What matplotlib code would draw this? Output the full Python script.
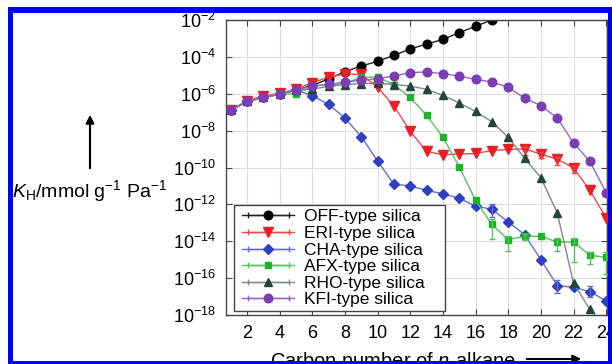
import numpy as np
import matplotlib
matplotlib.use("Agg")
import matplotlib.pyplot as plt
from matplotlib.lines import Line2D
from matplotlib.patches import Rectangle
from matplotlib.legend_handler import HandlerLine2D

plt.rcParams['font.family'] = 'Liberation Sans'
plt.rcParams['mathtext.fontset'] = 'custom'
plt.rcParams['mathtext.rm'] = 'Liberation Sans'
plt.rcParams['mathtext.it'] = 'Liberation Sans:italic'

# carbon number of n-alkane
carbon = np.arange(1, 25)

# log10 of K_H (mmol g-1 Pa-1)
off_log = [-6.9, -6.42, -6.2, -6.03, -5.8, -5.55, -5.2, -4.8, -4.5, -4.24, -3.92,
           -3.57, -3.31, -3.05, -2.69, -2.34, -2.0]
eri_log = [-6.9, -6.38, -6.12, -5.98, -5.75, -5.4, -5.1, -4.93, -4.95, -5.65, -6.66,
           -8.03, -9.13, -9.31, -9.27, -9.24, -9.08, -9.02, -9.0, -9.27, -9.55,
           -10.02, -11.24, -12.73]
cha_log = [-6.9, -6.42, -6.2, -6.03, -5.8, -6.1, -6.58, -7.31, -8.33, -9.64, -10.91,
           -11.0, -11.24, -11.42, -11.67, -12.09, -12.27, -12.95, -13.64, -15.0,
           -16.4, -16.5, -16.73, -17.24]
afx_log = [-6.9, -6.42, -6.2, -6.03, -6.0, -5.6, -5.5, -5.45, -5.1, -5.1, -5.5,
           -6.2, -7.17, -8.35, -9.96, -11.78, -13.09, -13.91, -13.73, -13.73,
           -14.04, -14.04, -14.76, -14.87]
rho_log = [-6.9, -6.42, -6.2, -6.03, -5.8, -5.75, -5.6, -5.5, -5.45, -5.43, -5.5,
           -5.58, -5.76, -6.09, -6.5, -6.96, -7.52, -8.36, -9.5, -10.55, -12.45,
           -16.27, -17.7, -18.6]
kfi_log = [-6.9, -6.42, -6.2, -6.03, -5.8, -5.58, -5.49, -5.36, -5.27, -5.18, -5.04,
           -4.85, -4.82, -4.91, -5.04, -5.22, -5.36, -5.64, -6.24, -6.64, -7.31,
           -8.67, -9.67, -11.36]

# error bars (in decades below / above the point)
afx_err_n = [17, 18, 19, 21, 22, 23, 24]
afx_err_lo = [0.8, 0.6, 0.2, 0.5, 1.1, 0.5, 0.9]
afx_err_hi = [0.3, 0.2, 0.1, 0.2, 0.2, 0.2, 0.3]
cha_err_n = [17, 21, 23]
cha_err_lo = [0.4, 0.4, 0.3]
cha_err_hi = [0.3, 0.3, 0.3]
eri_err_n = [19, 20, 21, 22]
eri_err_lo = [0.3, 0.2, 0.3, 0.3]
eri_err_hi = [0.1, 0.1, 0.1, 0.1]

labels = ['OFF-type silica', 'ERI-type silica', 'CHA-type silica',
          'AFX-type silica', 'RHO-type silica', 'KFI-type silica']
yticks_exp = [-2, -4, -6, -8, -10, -12, -14, -16, -18]
xticks = [2, 4, 6, 8, 10, 12, 14, 16, 18, 20, 22, 24]

series = [
    (off_log, '#000000', '#222222', 'o', 6.2),
    (eri_log, '#ee1c24', '#e8484c', 'v', 6.5),
    (cha_log, '#2f3fbf', '#6470c8', 'D', 5.2),
    (afx_log, '#1fb32a', '#55c25c', 's', 5.0),
    (rho_log, '#244636', '#7f8886', '^', 6.2),
    (kfi_log, '#7a3db3', '#9068c4', 'o', 6.2),
]
errors = {1: (eri_err_n, eri_err_lo, eri_err_hi),
          2: (cha_err_n, cha_err_lo, cha_err_hi),
          3: (afx_err_n, afx_err_lo, afx_err_hi)}

W, H = 612, 364
fig = plt.figure(figsize=(6.12, 3.64), dpi=100)
ax = fig.add_axes([226 / W, 1 - 315 / H, (607 - 226) / W, (315 - 20) / H])

handles = []
hmap = {}
for i, (lg, mc, lc, mk, ms) in enumerate(series):
    n = carbon[:len(lg)]
    k = 10.0 ** np.array(lg)
    ax.plot(n, k, color=lc, lw=1.0, zorder=2 + i)
    ax.plot(n, k, ls='none', marker=mk, ms=ms, mfc=mc, mec=mc, zorder=2 + i)
    if i in errors:
        en, elo, ehi = errors[i]
        idx = np.array(en) - 1
        kk = k[idx]
        lo = kk - kk * 10.0 ** (-np.array(elo))
        hi = kk * 10.0 ** np.array(ehi) - kk
        ax.errorbar(carbon[idx], kk, yerr=[lo, hi], fmt='none', ecolor=lc,
                    elinewidth=1.0, capsize=2, capthick=1.0, zorder=2 + i)
    main = Line2D([], [], color=lc, lw=1.0, marker=mk, ms=ms, mfc=mc, mec=mc)
    caps = Line2D([], [], color=lc, lw=1.0, marker='|', ms=5, mec=lc)
    hmap[caps] = HandlerLine2D(numpoints=2)
    handles.append((caps, main))

ax.set_yscale('log')
ax.set_ylim(1e-18, 1e-2)
ax.set_xlim(0.72, 24.05)
ax.set_yticks([10.0 ** e for e in yticks_exp])
ax.set_yticklabels([r'$10^{%d}$' % e for e in yticks_exp])
ax.yaxis.set_minor_locator(matplotlib.ticker.NullLocator())
ax.set_xticks(xticks)
ax.grid(True, color='#dddddd', lw=0.8, zorder=0)
ax.set_axisbelow(True)
ax.tick_params(direction='in', top=True, right=True, length=4, width=0.8,
               color='#444444', labelsize=13, pad=7)
for s in ax.spines.values():
    s.set_color('#444444')
    s.set_linewidth(1.0)

# legend box drawn by hand (wider right margin than matplotlib's frame)
box = Rectangle((234 / W, 1 - 311 / H), (445 - 234) / W, (311 - 205) / H,
                transform=fig.transFigure, facecolor='white',
                edgecolor='#444444', lw=1.0, zorder=19, clip_on=False)
ax.add_patch(box)
leg = ax.legend(handles, labels, handler_map=hmap, loc='upper left',
                bbox_to_anchor=(238 / W, 1 - 205 / H),
                bbox_transform=fig.transFigure,
                borderaxespad=0, fontsize=12.5, frameon=False,
                labelspacing=0.08, borderpad=0.25, handlelength=3.0,
                handletextpad=0.55)
leg.set_zorder(20)

# axis labels with arrows
fig.text(12 / W, 1 - 197 / H, r'$K_{\mathrm{H}}$/mmol g$^{-1}$ Pa$^{-1}$',
         ha='left', va='baseline', fontsize=14)
ax.annotate('', xy=(90 / W, 1 - 112 / H), xytext=(90 / W, 1 - 171 / H),
            xycoords='figure fraction', textcoords='figure fraction',
            arrowprops=dict(arrowstyle='-|>', color='black', lw=1.5,
                            mutation_scale=12))
fig.text(270 / W, -3 / H, r'Carbon number of $n$-alkane',
         ha='left', va='baseline', fontsize=14.5)
ax.annotate('', xy=(584 / W, 1 - 359 / H), xytext=(524 / W, 1 - 359 / H),
            xycoords='figure fraction', textcoords='figure fraction',
            arrowprops=dict(arrowstyle='-|>', color='black', lw=1.5,
                            mutation_scale=12))

# blue frame
def frame(x0, y0, x1, y1):
    fig.add_artist(Rectangle((x0 / W, 1 - y1 / H), (x1 - x0) / W, (y1 - y0) / H,
                             transform=fig.transFigure, color='#0000ff', lw=0,
                             zorder=50))

frame(8, 7, 612, 13)
frame(8, 7, 13, 364)
frame(8, 361, 612, 364)
frame(608, 7, 612, 364)

fig.savefig('out.png', dpi=100)
